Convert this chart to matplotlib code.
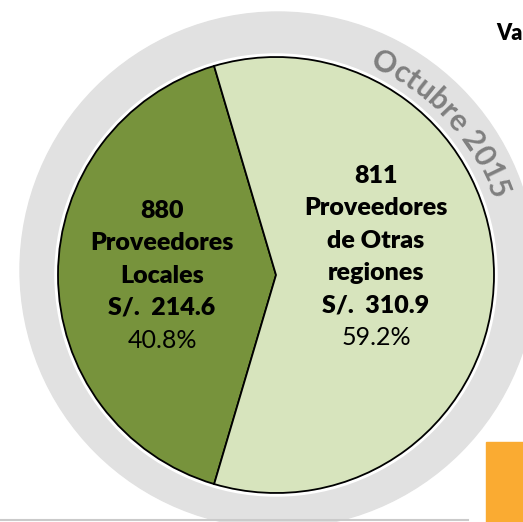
import numpy as np
import matplotlib
matplotlib.use("Agg")
import matplotlib.pyplot as plt
from matplotlib.patches import Circle, Rectangle
from matplotlib.textpath import TextToPath
from matplotlib.font_manager import FontProperties

# ---- data ----
counts = [880, 811]
names = ["Proveedores\nLocales", "Proveedores\nde Otras\nregiones"]
amounts = [214.6, 310.9]
colors = ["#77933C", "#D7E4BD"]
period = "Octubre 2015"
corner_text = "Va"

W, H = 523, 522
fig = plt.figure(figsize=(W / 100, H / 100), dpi=100)
ax = fig.add_axes([0, 0, 1, 1])

def Y(y):  # image y -> data y
    return H - y

FONT = "Lato"

# gray ring
ax.add_patch(Circle((278, Y(270)), 258, color="#E1E1E1", zorder=1))
# white halo
ax.add_patch(Circle((276, Y(275)), 221, color="white", zorder=2))

pcts = [a / sum(amounts) * 100 for a in amounts]
ax.pie(amounts, colors=colors, startangle=106.5, counterclock=True,
       center=(276, Y(275)), radius=218, frame=True,
       wedgeprops=dict(edgecolor="black", linewidth=1.3, zorder=3))
ax.set_xlim(0, W)
ax.set_ylim(0, H)
ax.set_aspect("equal")
ax.axis("off")

# labels
label_x = [162, 376]
top_y = [211, 176]
step = 32.3
for i in range(2):
    lines = [str(counts[i])] + names[i].split("\n") + [f"S/.  {amounts[i]:.1f}"]
    y = top_y[i]
    for ln in lines:
        ax.text(label_x[i], Y(y), ln, ha="center", va="center", fontsize=18,
                fontweight="heavy", family=FONT, zorder=5)
        y += step
    ax.text(label_x[i], Y(y), f"{pcts[i]:.1f}%", ha="center", va="center",
            fontsize=18, family=FONT, zorder=5)

# curved text along the ring
fp = FontProperties(family=FONT, weight="bold", size=21.5)
ttp = TextToPath()
cx, cy = 276, Y(275)
r_text = 238
px_per_pt = 100 / 72
widths = []
for ch in period:
    if ch == " ":
        w1, _, _ = ttp.get_text_width_height_descent("a a", fp, ismath=False)
        w2, _, _ = ttp.get_text_width_height_descent("aa", fp, ismath=False)
        w = w1 - w2
    else:
        w, _, _ = ttp.get_text_width_height_descent(ch, fp, ismath=False)
    widths.append(w * px_per_pt * 1.04)
theta0 = np.deg2rad(66)
pos = 0
for ch, w in zip(period, widths):
    th = theta0 - (pos + w / 2) / r_text
    pos += w
    if ch == " ":
        continue
    ax.text(cx + r_text * np.cos(th), cy + r_text * np.sin(th), ch,
            rotation=np.rad2deg(th) - 90, rotation_mode="anchor",
            ha="center", va="center", fontproperties=fp, color="#7F7F7F", zorder=5)

# corner text
ax.text(496, Y(34), corner_text, ha="left", va="center", fontsize=15.5,
        fontweight="heavy", family=FONT, zorder=5)

# orange box & bottom line
ax.add_patch(Rectangle((486, 0), 40, Y(442), color="#FAAB32", zorder=4))
ax.plot([0, 468], [Y(520), Y(520)], color="#CACACA", lw=1.5, zorder=4)

fig.savefig("out.png", dpi=100)
